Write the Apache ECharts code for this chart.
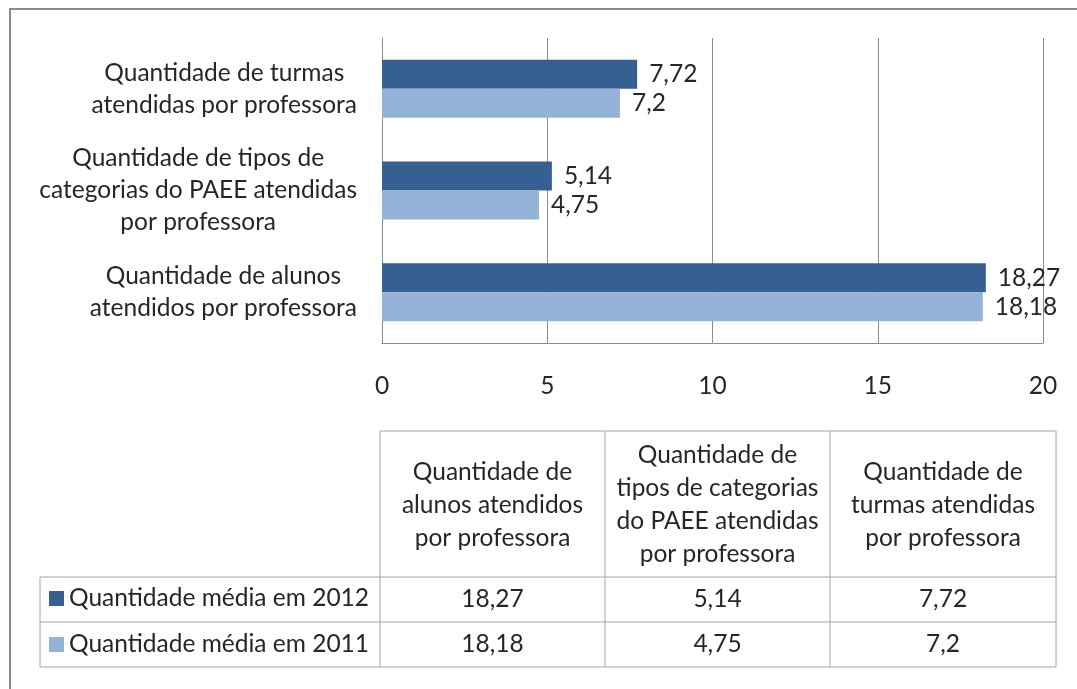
<!DOCTYPE html>
<html>
<head>
<meta charset="utf-8">
<script src="https://cdn.jsdelivr.net/npm/echarts@6/dist/echarts.min.js"></script>
<style>
html,body{margin:0;padding:0;background:#fff;}
#chart{width:1077px;height:689px;}
</style>
</head>
<body>
<div id="chart"></div>
<script>
// ---- data ----
const categories = [
  'Quantidade de alunos\natendidos por professora',
  'Quantidade de tipos de\ncategorias do PAEE atendidas\npor professora',
  'Quantidade de turmas\natendidas por professora'
];
const tableHeaders = [
  'Quantidade de\nalunos atendidos\npor professora',
  'Quantidade de\ntipos de categorias\ndo PAEE atendidas\npor professora',
  'Quantidade de\nturmas atendidas\npor professora'
];
const seriesNames = ['Quantidade média em 2012', 'Quantidade média em 2011'];
const values2012 = [18.27, 5.14, 7.72];
const values2011 = [18.18, 4.75, 7.2];
const xTicks = [0, 5, 10, 15, 20];

// ---- style ----
const FONT = 'Lato';
const FS = 24.5;
const TXT = '#262626';
const DARK = '#366092';
const LIGHT = '#95b3d7';
const fmt = v => String(v).replace('.', ',');

const chart = echarts.init(document.getElementById('chart'));

// table layout
const tblTop = 431, hdrBottom = 577, row1Bottom = 622, tblBottom = 667;
const legLeft = 40, colX = [380, 605, 830, 1056];
const LINE = '#a6a6a6';
const graphics = [];
// outer frame
graphics.push({type:'rect', shape:{x:10, y:9, width:1200, height:800}, style:{fill:null, stroke:'#8c8c8c', lineWidth:2}, silent:true});
// table lines
function hline(x1,x2,y){graphics.push({type:'line', shape:{x1:x1,y1:y,x2:x2,y2:y}, style:{stroke:LINE, lineWidth:1}});}
function vline(x,y1,y2){graphics.push({type:'line', shape:{x1:x,y1:y1,x2:x,y2:y2}, style:{stroke:LINE, lineWidth:1}});}
hline(colX[0], colX[3], tblTop);
hline(legLeft, colX[3], hdrBottom);
hline(legLeft, colX[3], row1Bottom);
hline(legLeft, colX[3], tblBottom);
vline(legLeft, hdrBottom, tblBottom);
colX.forEach(x => vline(x, tblTop, tblBottom));
const rowsVals = [values2012, values2011];
const rowMid = [(hdrBottom+row1Bottom)/2, (row1Bottom+tblBottom)/2];
tableHeaders.forEach((h, i) => {
  const cx = (colX[i] + colX[i+1]) / 2;
  graphics.push({type:'text', x:cx, y:(tblTop+hdrBottom)/2+1, style:{text:h, fill:TXT, font:FS+'px '+FONT, align:'center', verticalAlign:'middle', lineHeight:33}});
  rowsVals.forEach((rv, r) => {
    graphics.push({type:'text', x:cx, y:rowMid[r], style:{text:fmt(rv[i]), fill:TXT, font:FS+'px '+FONT, align:'center', verticalAlign:'middle'}});
  });
});

const option = {
  animation: false,
  textStyle: {fontFamily: FONT},
  grid: {left: 382, right: 34, top: 38, bottom: 346, containLabel: false},
  legend: {
    orient: 'vertical', left: 49, top: 586, itemGap: 21, padding: 0,
    itemWidth: 15, itemHeight: 15, icon: 'rect',
    textStyle: {fontFamily: FONT, fontSize: FS, color: TXT, lineHeight: 24},
    data: seriesNames
  },
  xAxis: {
    type: 'value', min: 0, max: 20, interval: 5,
    axisLine: {show: true, lineStyle: {color: '#8c8c8c', width: 1}},
    axisTick: {show: false},
    splitLine: {show: true, lineStyle: {color: '#8c8c8c', width: 1}},
    axisLabel: {color: TXT, fontSize: FS, fontFamily: FONT, margin: 31,
      formatter: v => xTicks.includes(v) ? String(v) : ''}
  },
  yAxis: {
    type: 'category', data: categories,
    axisLine: {show: true, lineStyle: {color: '#8c8c8c', width: 1}},
    axisTick: {show: false},
    axisLabel: {
      align: 'right', margin: 25,
      formatter: v => v.split('\n').map(l => '{c|' + l + '}').join('\n'),
      rich: {c: {align: 'center', fontSize: FS, lineHeight: 32, color: TXT, fontFamily: FONT}}
    }
  },
  series: [
    {name: seriesNames[0], type: 'bar', data: values2012, barGap: '0%', barCategoryGap: '43%',
     itemStyle: {color: DARK},
     label: {show: true, position: 'right', distance: 12, color: TXT, fontSize: FS, fontFamily: FONT, formatter: p => fmt(p.value)}},
    {name: seriesNames[1], type: 'bar', data: values2011, barGap: '0%', barCategoryGap: '43%',
     itemStyle: {color: LIGHT},
     label: {show: true, position: 'right', distance: 12, color: TXT, fontSize: FS, fontFamily: FONT, formatter: p => fmt(p.value)}}
  ],
  graphic: graphics
};
chart.setOption(option);
</script>
</body>
</html>
